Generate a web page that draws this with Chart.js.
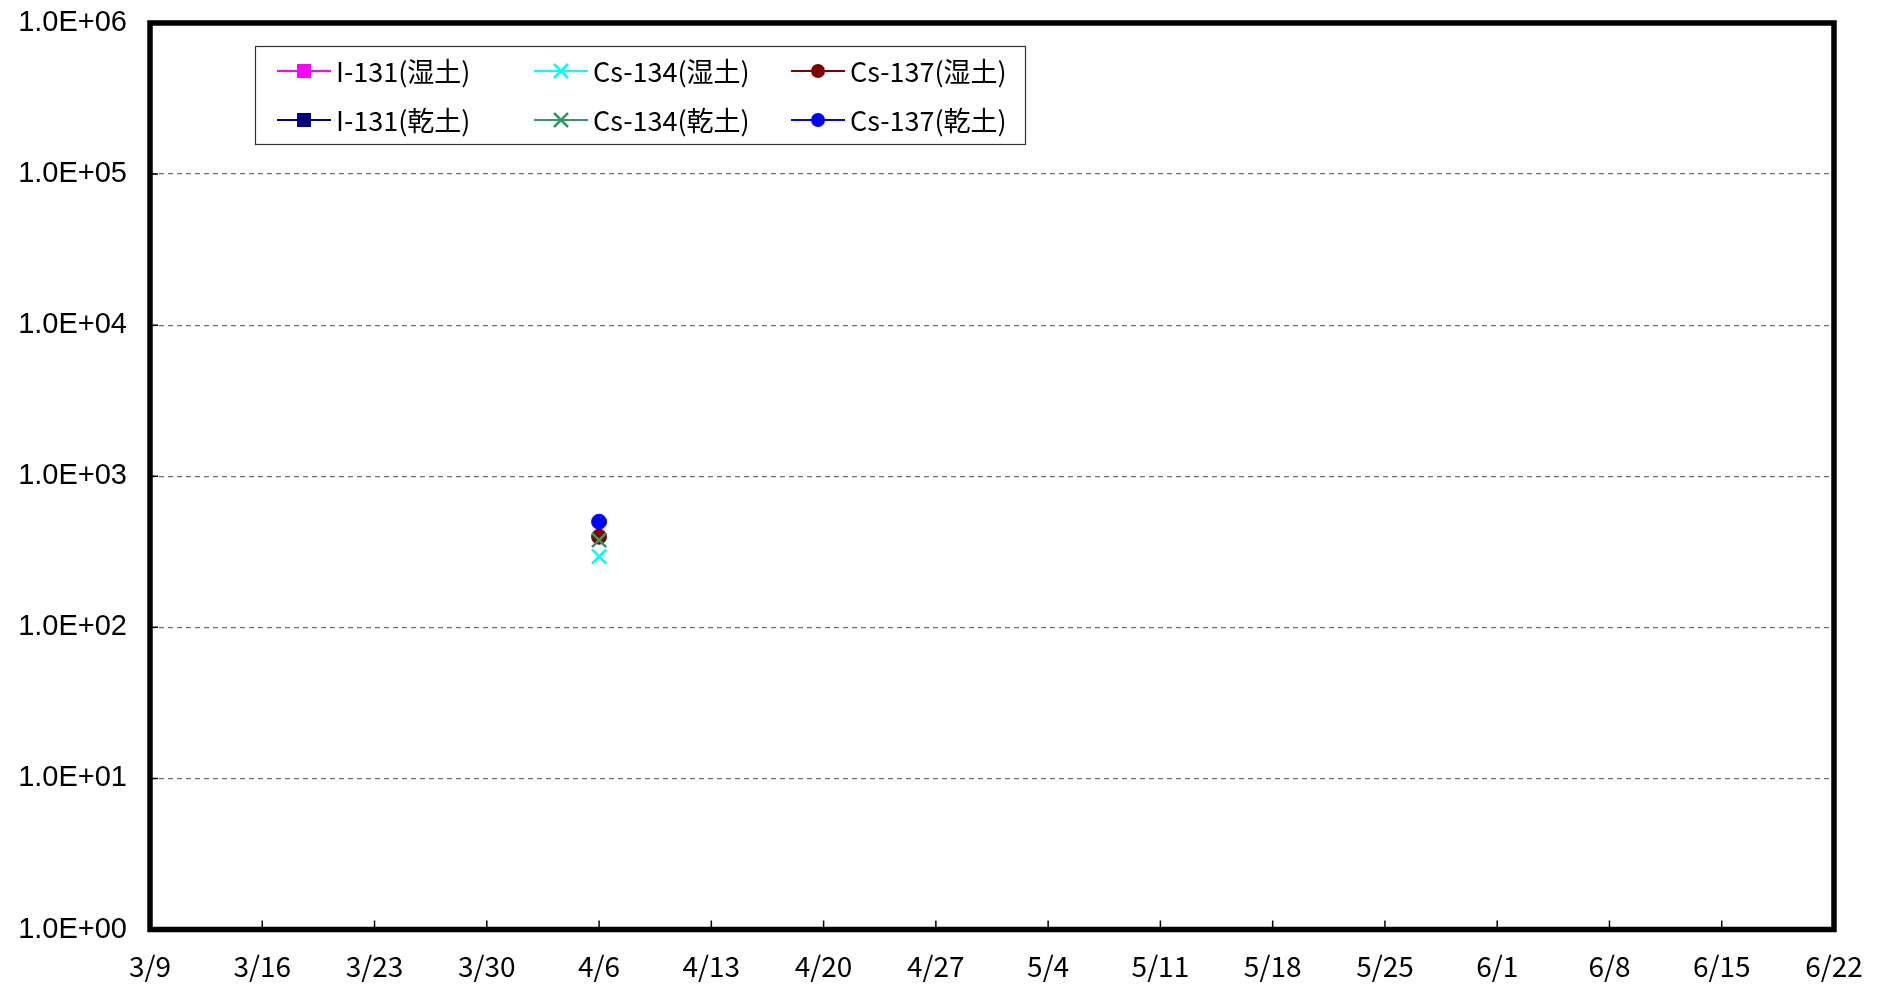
<!DOCTYPE html>
<html>
<head>
<meta charset="utf-8">
<script src="https://cdn.jsdelivr.net/npm/chart.js@4/dist/chart.umd.min.js"></script>
<style>
  html, body { margin: 0; padding: 0; background: #fff; }
</style>
</head>
<body>
<canvas id="chart" width="1880" height="987"></canvas>
<script>
// données
const startDate = '3/9';
const xTickLabels = ['3/9', '3/16', '3/23', '3/30', '4/6', '4/13', '4/20', '4/27', '5/4', '5/11', '5/18', '5/25', '6/1', '6/8', '6/15', '6/22'];
const yTickValues = [1, 10, 100, 1000, 10000, 100000, 1000000];
const sampleDates = ['4/6'];
const i131Wet = [null];
const i131Dry = [null];
const cs134Wet = [294];
const cs134Dry = [378];
const cs137Wet = [398];
const cs137Dry = [500];

const dayOffset = (s) => {
  const [m, d] = s.split('/').map(Number);
  const [m0, d0] = startDate.split('/').map(Number);
  return Math.round((new Date(2011, m - 1, d) - new Date(2011, m0 - 1, d0)) / 86400000);
};
const toPoints = (values) => values.map((v, i) => ({ x: dayOffset(sampleDates[i]), y: v }));

const makeSet = (label, values, color, style, radius, order) => ({
  label: label,
  data: toPoints(values),
  borderColor: color,
  backgroundColor: color,
  pointStyle: style,
  pointRadius: radius,
  pointBorderWidth: style === 'crossRot' ? 2.5 : 1,
  borderWidth: 2,
  showLine: false,
  order: order
});

const datasets = [
  makeSet('I-131(湿土)', i131Wet, '#ff00ff', 'rect', 7, 5),
  makeSet('Cs-134(湿土)', cs134Wet, '#00ffff', 'crossRot', 10, 4),
  makeSet('Cs-137(湿土)', cs137Wet, '#800000', 'circle', 7.5, 2),
  makeSet('I-131(乾土)', i131Dry, '#000080', 'rect', 7, 5),
  makeSet('Cs-134(乾土)', cs134Dry, '#339966', 'crossRot', 10, 1),
  makeSet('Cs-137(乾土)', cs137Dry, '#0000ff', 'circle', 7.5, 0)
];

const jpFont = '"Noto Sans CJK JP", "Noto Sans", sans-serif';

// cadre épais + petites graduations vers l'intérieur
const framePlugin = {
  id: 'frame',
  afterDatasetsDraw(chart) {
    const { ctx, chartArea: a, scales } = chart;
    ctx.save();
    ctx.strokeStyle = '#000';
    ctx.lineWidth = 1.5;
    ctx.beginPath();
    scales.x.ticks.forEach(t => {
      const x = scales.x.getPixelForValue(t.value);
      ctx.moveTo(x, a.bottom);
      ctx.lineTo(x, a.bottom - 9);
    });
    scales.y.ticks.forEach(t => {
      const y = scales.y.getPixelForValue(t.value);
      ctx.moveTo(a.left, y);
      ctx.lineTo(a.left + 8, y);
    });
    ctx.stroke();
    ctx.lineWidth = 5.5;
    ctx.strokeRect(a.left, a.top, a.right - a.left, a.bottom - a.top);
    ctx.restore();
  }
};

// légende encadrée dans la zone du graphique (3 colonnes x 2 lignes)
const legendPlugin = {
  id: 'boxLegend',
  afterDraw(chart) {
    const ctx = chart.ctx;
    const box = { x: 255, y: 46, w: 770, h: 98 };
    const cols = [277, 534, 791];
    const rows = [71, 120];
    ctx.save();
    ctx.fillStyle = '#fff';
    ctx.fillRect(box.x, box.y, box.w, box.h);
    ctx.strokeStyle = '#333';
    ctx.lineWidth = 1.2;
    ctx.strokeRect(box.x + 0.5, box.y + 0.5, box.w, box.h);
    chart.data.datasets.forEach((ds, i) => {
      const cx = cols[i % 3];
      const cy = rows[Math.floor(i / 3)];
      ctx.strokeStyle = ds.borderColor;
      ctx.fillStyle = ds.backgroundColor;
      ctx.lineWidth = 2;
      ctx.beginPath();
      ctx.moveTo(cx, cy);
      ctx.lineTo(cx + 54, cy);
      ctx.stroke();
      const mx = cx + 27;
      if (ds.pointStyle === 'rect') {
        ctx.fillRect(mx - 7, cy - 7, 14, 14);
      } else if (ds.pointStyle === 'circle') {
        ctx.beginPath();
        ctx.arc(mx, cy, 7, 0, Math.PI * 2);
        ctx.fill();
      } else {
        ctx.lineWidth = 2.5;
        ctx.beginPath();
        ctx.moveTo(mx - 7, cy - 7); ctx.lineTo(mx + 7, cy + 7);
        ctx.moveTo(mx + 7, cy - 7); ctx.lineTo(mx - 7, cy + 7);
        ctx.stroke();
      }
      ctx.fillStyle = '#000';
      ctx.font = '27px ' + jpFont;
      ctx.textBaseline = 'middle';
      ctx.fillText(ds.label, cx + 59, cy + 1);
    });
    ctx.restore();
  }
};

new Chart(document.getElementById('chart'), {
  type: 'scatter',
  data: { datasets: datasets },
  plugins: [framePlugin, legendPlugin],
  options: {
    responsive: false,
    animation: false,
    devicePixelRatio: 1,
    layout: { padding: { top: 23, right: 46, left: 0, bottom: 0 } },
    plugins: {
      legend: { display: false },
      tooltip: { enabled: false }
    },
    scales: {
      x: {
        type: 'linear',
        min: 0,
        max: (xTickLabels.length - 1) * 7,
        afterBuildTicks: (scale) => {
          scale.ticks = xTickLabels.map((l, i) => ({ value: i * 7 }));
        },
        afterFit: (scale) => { scale.height = 57.5; scale.paddingLeft = 0; scale.paddingRight = 0; },
        grid: { display: false, drawTicks: false },
        border: { display: false },
        ticks: {
          autoSkip: false,
          maxRotation: 0,
          padding: 20,
          color: '#000',
          font: { family: jpFont, size: 28 },
          callback: (v) => xTickLabels[Math.round(v / 7)]
        }
      },
      y: {
        type: 'logarithmic',
        min: 1,
        max: 1000000,
        afterBuildTicks: (scale) => {
          scale.ticks = yTickValues.map(v => ({ value: v, major: true }));
        },
        afterFit: (scale) => { scale.width = 150; scale.paddingTop = 0; scale.paddingBottom = 0; },
        grid: {
          drawTicks: false,
          color: (c) => (c.index === 0 || c.index === yTickValues.length - 1) ? 'transparent' : '#707070',
          lineWidth: 1.2
        },
        border: { display: false, dash: [5, 4] },
        ticks: {
          autoSkip: false,
          padding: 23,
          color: '#000',
          font: { family: '"Liberation Sans", Arial, sans-serif', size: 29 },
          callback: (v) => {
            const e = Math.round(Math.log10(v));
            return '1.0E+' + String(e).padStart(2, '0');
          }
        }
      }
    }
  }
});
</script>
</body>
</html>
